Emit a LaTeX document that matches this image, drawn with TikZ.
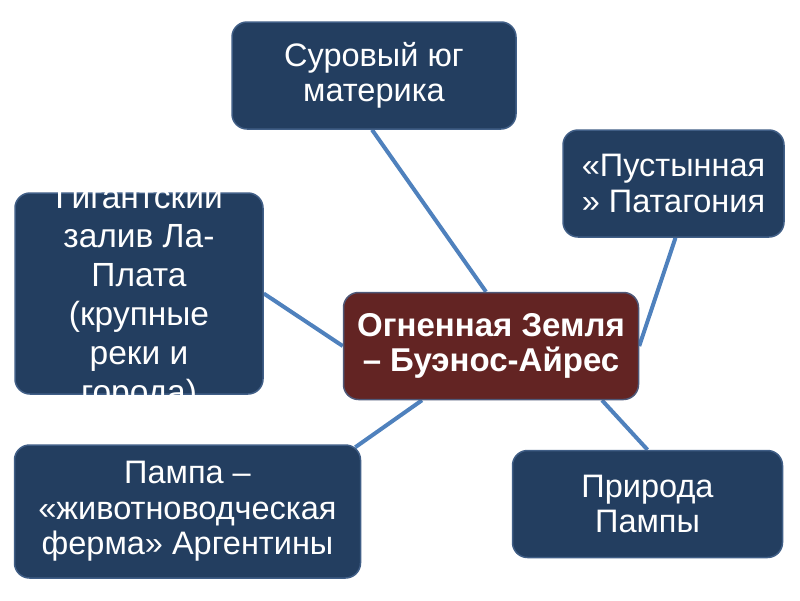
\documentclass[tikz,border=0pt]{standalone}
\usepackage{fontspec}
\setmainfont{Liberation Sans}
\usetikzlibrary{calc,backgrounds}
\definecolor{navyfill}{RGB}{35,62,96}
\definecolor{navyedge}{RGB}{64,94,134}
\definecolor{redfill}{RGB}{99,36,35}
\definecolor{rededge}{RGB}{78,88,120}
\definecolor{linkblue}{RGB}{79,129,189}
\tikzset{
  box/.style={draw=navyedge, line width=1.5pt, fill=navyfill, rounded corners=15pt,
    text=white, align=center, inner sep=0pt,
    font=\fontsize{32.5}{35.5}\selectfont},
  hub/.style={box, fill=redfill, draw=rededge, font=\bfseries\fontsize{33}{34.5}\selectfont},
  link/.style={draw=linkblue, line width=4pt}
}
\begin{document}
\begin{tikzpicture}[x=1pt,y=-1pt]
\useasboundingbox (0,0) rectangle (800,600);
\node[box, minimum width=284pt, minimum height=107pt] (top) at (374,75.5) {Суровый юг\\материка};
\node[box, minimum width=221pt, minimum height=107pt] (right) at (673.5,183.5) {«Пустынная\\» Патагония};
\node[box, minimum width=248pt, minimum height=201pt, text height=0pt, text depth=0pt] (left) at (139,293.5) {};
\node[text=white, align=center, font=\fontsize{33.5}{39}\selectfont] (lefttext) at ($(left.center)+(0,3.5)$) {Гигантский\\залив Ла-\\Плата\\(крупные\\реки и\\города)};
\node[hub, minimum width=295pt, minimum height=107pt] (c) at (491,346) {Огненная Земля\\– Буэнос-Айрес};
\node[box, minimum width=346pt, minimum height=133pt] (bl) at (187.5,511.5) {Пампа –\\«животноводческая\\ферма» Аргентины};
\node[box, minimum width=270pt, minimum height=107pt] (br) at (647.5,504) {Природа\\Пампы};
\begin{pgfonlayer}{background}
\draw[link] ($(top.south)+(-2,0)$) -- ($(c.north)+(-5,0)$);
\draw[link] ($(right.south)+(2,0)$) -- (c.east);
\draw[link] (left.east) -- (c.west);
\draw[link] ($(bl.north east)+(-6,3)$) -- ($(c.south)+(-69,0)$);
\draw[link] ($(c.south)+(111,0)$) -- (br.north);
\end{pgfonlayer}
\end{tikzpicture}
\end{document}
